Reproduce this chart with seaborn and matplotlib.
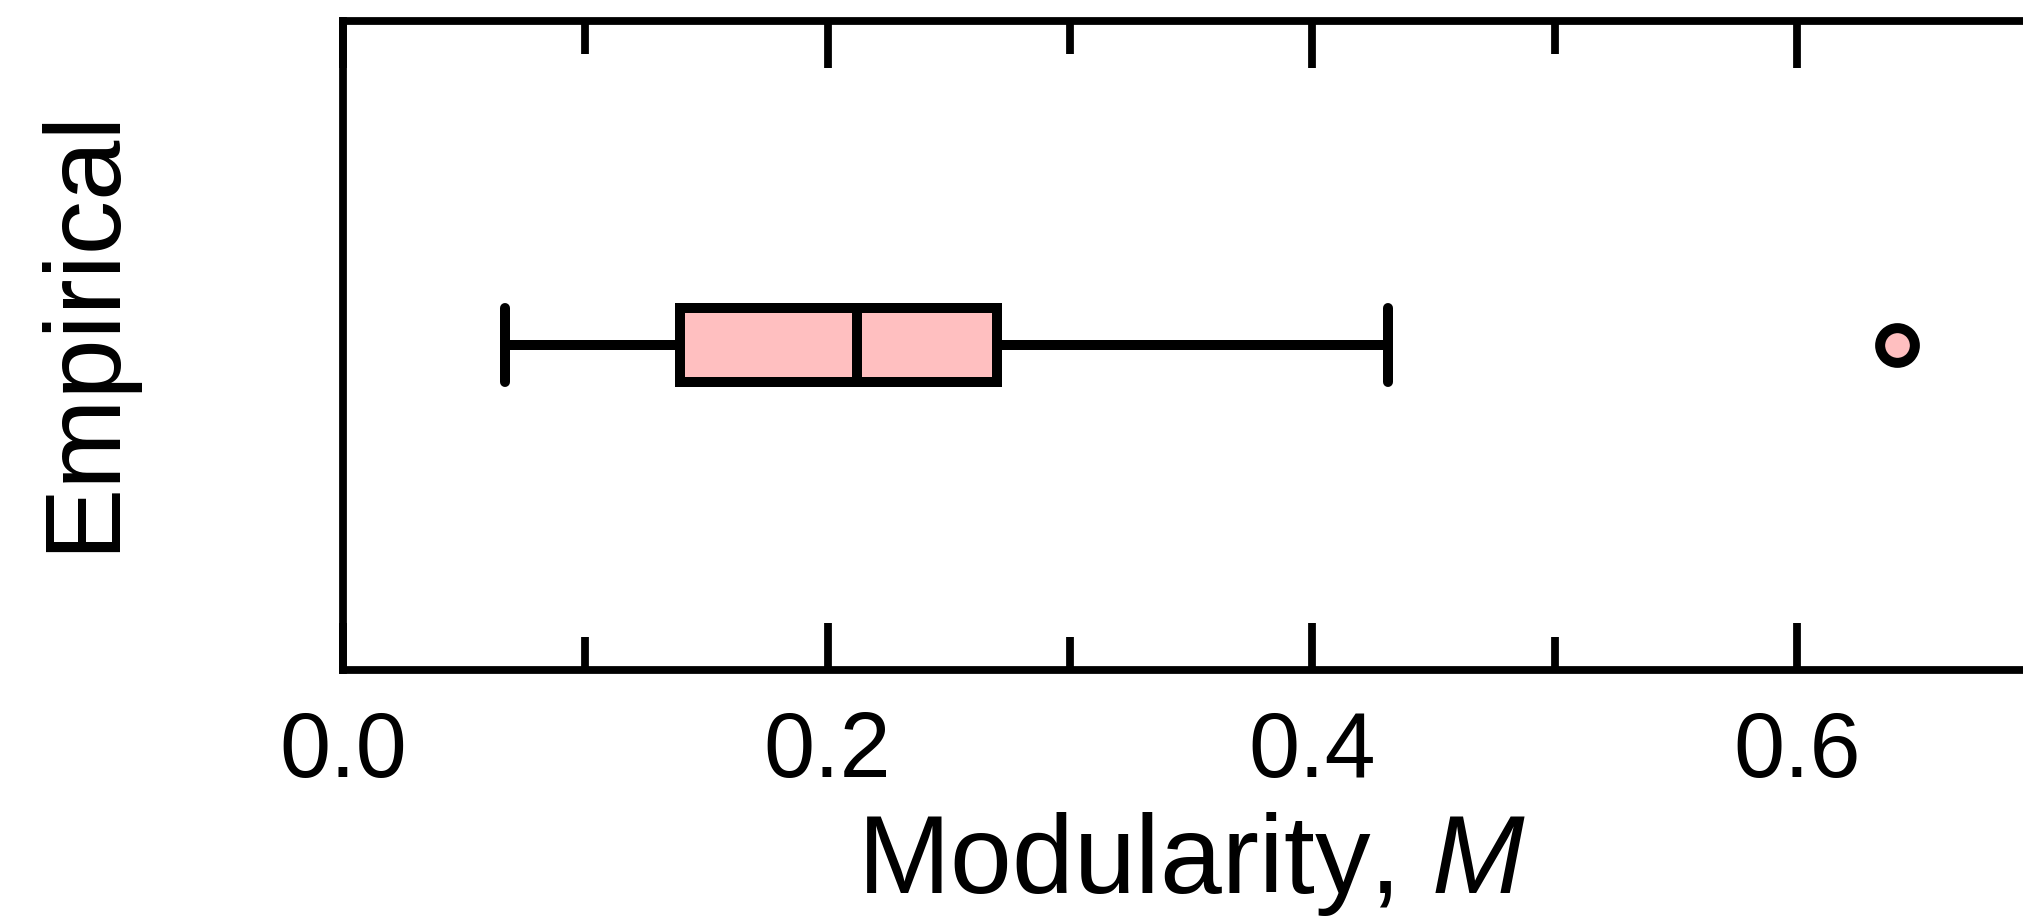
import pandas as pd
import matplotlib
matplotlib.use("Agg")
import matplotlib.pyplot as plt
from matplotlib.ticker import MultipleLocator
import seaborn as sns

# modularity values of the empirical networks
group = "Empirical"
modularity = [0.067, 0.110, 0.139, 0.180, 0.212, 0.240, 0.270, 0.431, 0.641]
x_ticks = [0.0, 0.2, 0.4, 0.6]
x_tick_labels = ["0.0", "0.2", "0.4", "0.6"]

df = pd.DataFrame({"M": modularity})

sns.set_style("ticks")
plt.rcParams["font.family"] = ["Liberation Sans", "DejaVu Sans"]
plt.rcParams["mathtext.fontset"] = "custom"
plt.rcParams["mathtext.it"] = "Liberation Sans:italic"
plt.rcParams["mathtext.rm"] = "Liberation Sans"
plt.rcParams["text.color"] = "black"
plt.rcParams["axes.labelcolor"] = "black"
plt.rcParams["xtick.color"] = "black"
plt.rcParams["xtick.labelcolor"] = "black"

pink = "#ffbfc0"
lw = 3.6

fig = plt.figure(figsize=(10.115, 4.595), dpi=200)
ax = fig.add_axes([0.1695, 0.2714, 0.8387, 0.7062])

sns.boxplot(
    data=df, x="M", ax=ax, width=0.115, color=pink, linecolor="black",
    linewidth=lw, saturation=1, capwidths=0.115,
    flierprops=dict(marker="o", markerfacecolor=pink, markeredgecolor="black",
                    markersize=12.5, markeredgewidth=lw),
)

ax.set_xlim(0, 0.7)
ax.set_ylim(0.5, -0.5)
ax.set_xticks(x_ticks)
ax.set_xticklabels(x_tick_labels)
ax.xaxis.set_minor_locator(MultipleLocator(0.1))
ax.tick_params(axis="x", which="both", direction="in", top=True, bottom=True,
               width=2.8, color="black", labelsize=33, labelcolor="black", pad=14.5)
ax.tick_params(axis="x", which="major", length=17)
ax.tick_params(axis="x", which="minor", length=12)
ax.tick_params(axis="y", left=False, labelleft=False)
for s in ax.spines.values():
    s.set_visible(True)
    s.set_linewidth(2.8)
    s.set_color("black")

ax.set_xlabel("Modularity, $M$", fontsize=40, labelpad=5, color="black")
ax.set_ylabel(group, fontsize=39, color="black")
ax.yaxis.set_label_coords(-0.123, 0.524)

fig.savefig("out.png", dpi=200)
